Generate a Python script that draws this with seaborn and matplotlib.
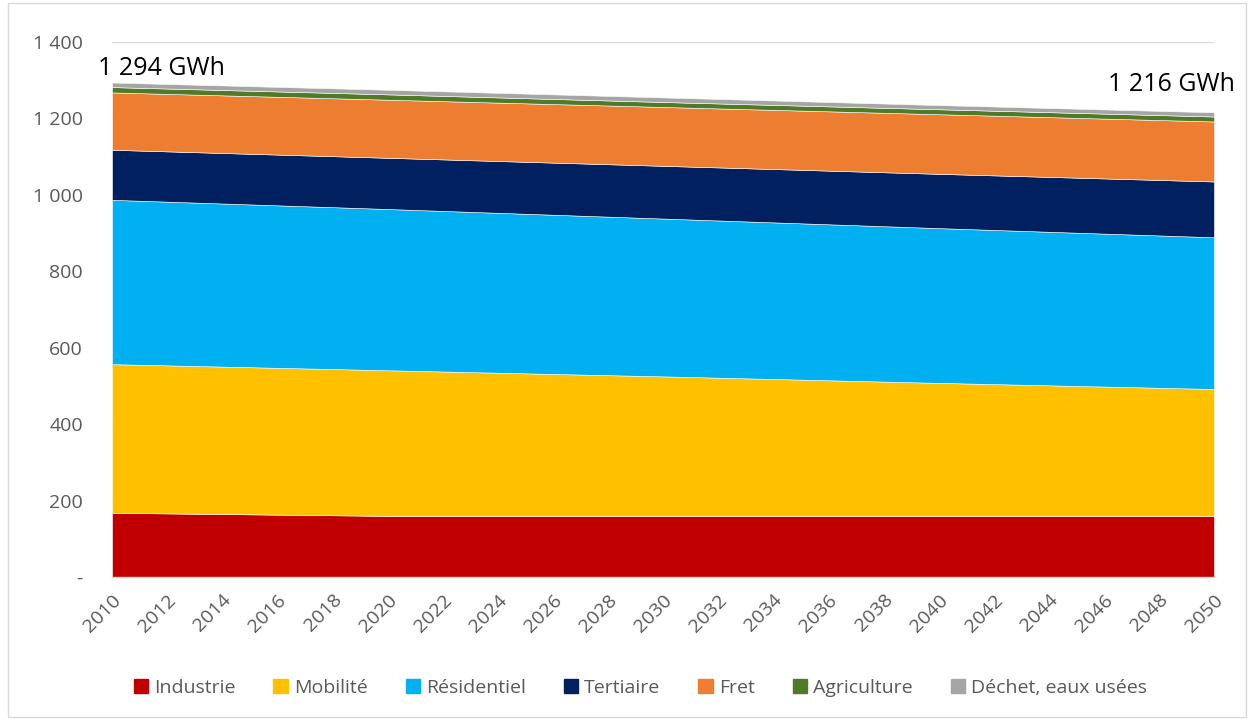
import matplotlib
matplotlib.use("Agg")
import matplotlib.pyplot as plt
import seaborn as sns
import numpy as np
import pandas as pd
from matplotlib.patches import Rectangle

years = [2010, 2020, 2030, 2040, 2050]
industrie = [168, 160, 160, 160, 160]
mobilite = [389, 381, 365, 348, 332]
residentiel = [430, 422, 413, 405, 397]
tertiaire = [131, 134, 138, 142, 146]
fret = [150, 152, 154, 156, 157]
agriculture = [14, 14, 13, 13, 13]
dechet = [12, 12, 12, 11, 11]

series_names = ["Industrie", "Mobilité", "Résidentiel", "Tertiaire", "Fret",
                "Agriculture", "Déchet, eaux usées"]
colors = ["#C00000", "#FFC000", "#00B0F0", "#002060", "#ED7D31", "#4F7A28", "#A5A5A5"]
tick_years = list(range(2010, 2051, 2))
y_ticks = [0, 200, 400, 600, 800, 1000, 1200, 1400]
y_labels = ["-", "200", "400", "600", "800", "1 000", "1 200", "1 400"]
label_start = "1 294 GWh"
label_end = "1 216 GWh"

df = pd.DataFrame({"year": years, "Industrie": industrie, "Mobilité": mobilite,
                   "Résidentiel": residentiel, "Tertiaire": tertiaire, "Fret": fret,
                   "Agriculture": agriculture, "Déchet, eaux usées": dechet})

sns.set_theme(style="white")
plt.rcParams["font.family"] = ["Open Sans", "DejaVu Sans"]

fig = plt.figure(figsize=(12.53, 7.19), dpi=100)
ax = fig.add_axes([112/1253, 1-577/719, (1214-112)/1253, (577-42)/719])

ax.stackplot(df["year"], *[df[n] for n in series_names], colors=colors,
             labels=series_names, linewidth=0.4, edgecolor="white", zorder=2)

ax.set_xlim(2010, 2050)
ax.set_ylim(0, 1400)
ax.set_yticks(y_ticks)
ax.set_yticklabels(y_labels, color="#595959", fontsize=14)
ax.set_xticks(tick_years)
ax.set_xticklabels([str(y) for y in tick_years], rotation=45, ha="right",
                   rotation_mode="anchor", color="#595959", fontsize=14)
ax.tick_params(axis="y", length=0, pad=21)
ax.tick_params(axis="x", length=0, pad=10)
ax.grid(axis="y", color="#D9D9D9", linewidth=1, zorder=0)
ax.set_axisbelow(True)
for s in ["top", "right", "left"]:
    ax.spines[s].set_visible(False)
ax.spines["bottom"].set_color("#D9D9D9")
ax.spines["bottom"].set_linewidth(1)
ax.set_xlabel("")
ax.set_ylabel("")

ax.text(2009.5, 1330, label_start, fontsize=18, color="black", ha="left", va="center")
ax.text(2050.75, 1290, label_end, fontsize=18, color="black", ha="right", va="center",
        clip_on=False)

handles = [Rectangle((0, 0), 1, 1, color=c) for c in colors]
leg = fig.legend(handles, series_names, loc="center", bbox_to_anchor=(0.511, 1-688/719),
                 ncol=7, frameon=False, fontsize=14, handlelength=0.75, handleheight=0.75,
                 handletextpad=0.3, columnspacing=1.95)
for t in leg.get_texts():
    t.set_color("#595959")

fig.patches.append(Rectangle((8/1253, 2/719), 1238/1253, 714/719, transform=fig.transFigure,
                             fill=False, edgecolor="#D9D9D9", linewidth=1))

fig.savefig("out.png", dpi=100)
